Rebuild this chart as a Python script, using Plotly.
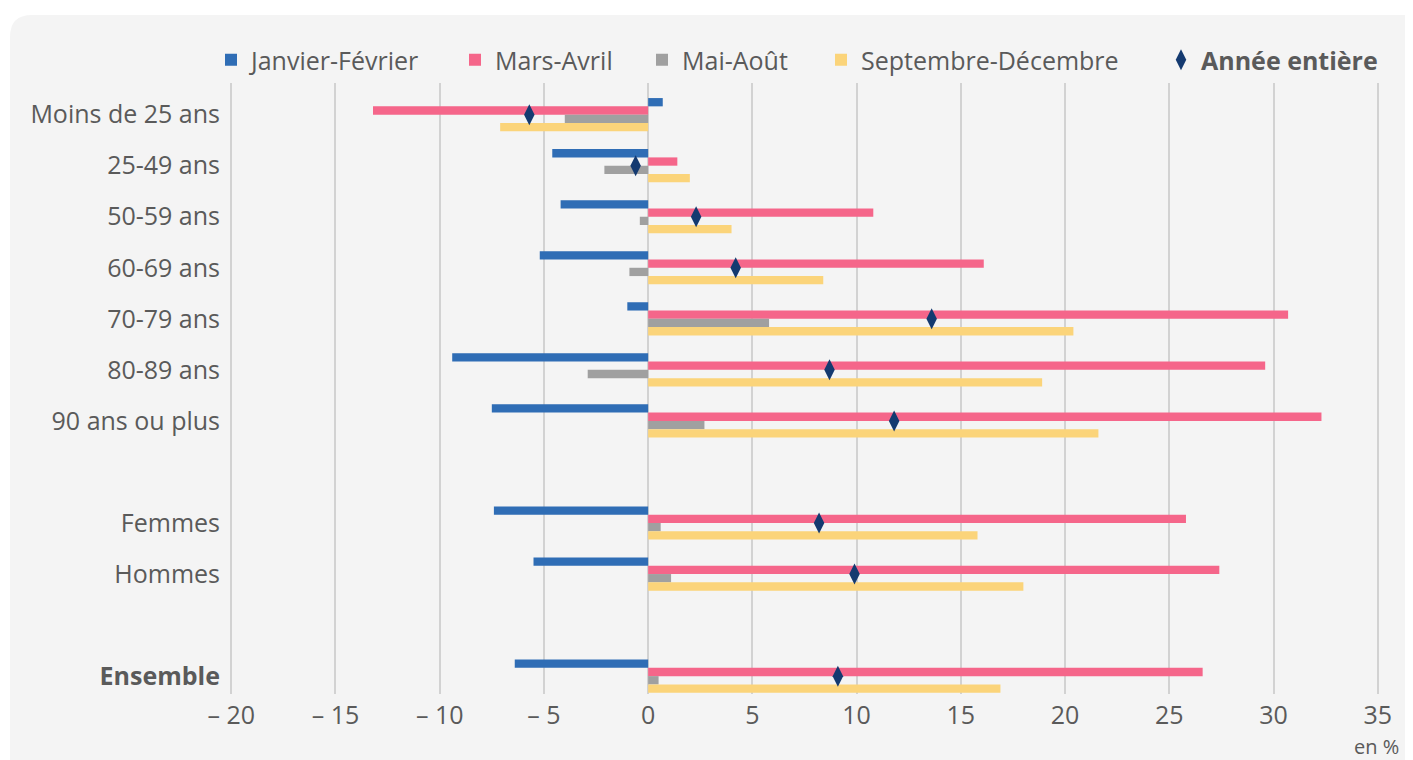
import plotly.graph_objects as go

# ---------------- data ----------------
categories = ["Moins de 25 ans", "25-49 ans", "50-59 ans", "60-69 ans", "70-79 ans",
              "80-89 ans", "90 ans ou plus", "Femmes", "Hommes", "Ensemble"]
group_sizes = [7, 2, 1]  # blocks of categories separated by an empty row
jan_fev = [0.7, -4.6, -4.2, -5.2, -1.0, -9.4, -7.5, -7.4, -5.5, -6.4]
mars_avril = [-13.2, 1.4, 10.8, 16.1, 30.7, 29.6, 32.3, 25.8, 27.4, 26.6]
mai_aout = [-4.0, -2.1, -0.4, -0.9, 5.8, -2.9, 2.7, 0.6, 1.1, 0.5]
sept_dec = [-7.1, 2.0, 4.0, 8.4, 20.4, 18.9, 21.6, 15.8, 18.0, 16.9]
annee = [-5.7, -0.6, 2.3, 4.2, 13.6, 8.7, 11.8, 8.2, 9.9, 9.1]
x_tickvals = [-20, -15, -10, -5, 0, 5, 10, 15, 20, 25, 30, 35]
x_ticktext = ["– 20", "– 15", "– 10", "– 5", "0", "5", "10", "15", "20", "25", "30", "35"]
series_names = ["Janvier-Février", "Mars-Avril", "Mai-Août", "Septembre-Décembre"]
series_colors = ["#2f6db5", "#f5668a", "#a0a0a0", "#fbd47a"]
annee_name = "Année entière"
annee_color = "#143a70"

# ---------------- layout constants ----------------
OFF = 8                      # page body margin of the browser
SW, SH = 1413, 760           # screen size
W, H = SW - OFF, SH - OFF    # figure size
# plot area in screen pixels
PL, PR, PT, PB = 225, 1384, 83, 694
ML, MR, MT, MB = PL - OFF, SW - PR, PT - OFF, SH - PB
PW, PH = PR - PL, PB - PT
FONT = "Open Sans"
TXT = "#5a5a5a"

def px_x(px):  # screen pixel -> paper x
    return (px - PL) / PW

def px_y(py):  # screen pixel -> paper y
    return (PB - py) / PH

# row positions with empty rows between blocks
positions = []
cur = 0
for size in group_sizes:
    for _ in range(size):
        positions.append(cur)
        cur += 1
    cur += 1

ticktext_y = [("<b>%s</b>" % c) if c == "Ensemble" else c for c in categories]

fig = go.Figure()
legend_ids = ["legend", "legend2", "legend3", "legend4", "legend5"]
for name, vals, col, lg in zip(series_names, [jan_fev, mars_avril, mai_aout, sept_dec],
                               series_colors, legend_ids):
    fig.add_trace(go.Bar(
        x=vals, y=positions, orientation="h", name=name,
        marker=dict(color=col, line=dict(width=0)),
        legend=lg, hoverinfo="x+name",
    ))

fig.add_trace(go.Scatter(
    x=annee, y=positions, mode="markers", name="<b>%s</b>" % annee_name,
    marker=dict(symbol="diamond-tall", size=15, color=annee_color),
    legend="legend5",
))

# legend placements: screen x where each legend text starts
legend_text_px = [250, 494, 681, 860, 1200]
legend_y = px_y(60)
legend_common = dict(orientation="h", yanchor="middle", xanchor="left",
                     bgcolor="rgba(0,0,0,0)", itemwidth=30,
                     font=dict(family=FONT, size=25, color=TXT))
legend_layout = {}
for lg, tx in zip(legend_ids, legend_text_px):
    legend_layout[lg] = dict(x=px_x(tx - 39), y=legend_y, **legend_common)

# rounded background panel
x0, x1 = px_x(10), px_x(1425)
y0, y1 = px_y(15), px_y(780)
rx, ry = 22 / PW, 22 / PH
panel_path = (f"M{x0+rx},{y0} L{x1-rx},{y0} Q{x1},{y0} {x1},{y0-ry} "
              f"L{x1},{y1+ry} Q{x1},{y1} {x1-rx},{y1} L{x0+rx},{y1} "
              f"Q{x0},{y1} {x0},{y1+ry} L{x0},{y0-ry} Q{x0},{y0} {x0+rx},{y0} Z")

fig.update_layout(
    width=W, height=H,
    margin=dict(l=ML, r=MR, t=MT, b=MB),
    paper_bgcolor="white",
    plot_bgcolor="rgba(0,0,0,0)",
    barmode="group", bargap=0.35, bargroupgap=0,
    font=dict(family=FONT, color=TXT),
    showlegend=True,
    shapes=[dict(type="path", path=panel_path, xref="paper", yref="paper",
                 fillcolor="#f4f4f4", line=dict(width=0), layer="below")],
    annotations=[dict(text="en %", x=px_x(1400), y=px_y(746.5), xref="paper", yref="paper",
                      xanchor="right", yanchor="middle", showarrow=False, borderpad=0,
                      font=dict(family=FONT, size=20, color=TXT))],
    **legend_layout,
)

fig.update_xaxes(
    range=[-20.3, 35.3], tickvals=x_tickvals, ticktext=x_ticktext,
    showgrid=True, gridcolor="#d2d2d2", gridwidth=1.5,
    zeroline=True, zerolinecolor="#d2d2d2", zerolinewidth=1.5,
    showline=False, ticks="", ticklabelstandoff=4,
    tickfont=dict(family=FONT, size=25, color=TXT),
)
fig.update_yaxes(
    range=[11.35, -0.62], tickvals=positions, ticktext=ticktext_y,
    showgrid=False, zeroline=False, showline=False, ticks="",
    ticklabelstandoff=4,
    tickfont=dict(family=FONT, size=25, color=TXT),
)

fig.write_html("out.html")
